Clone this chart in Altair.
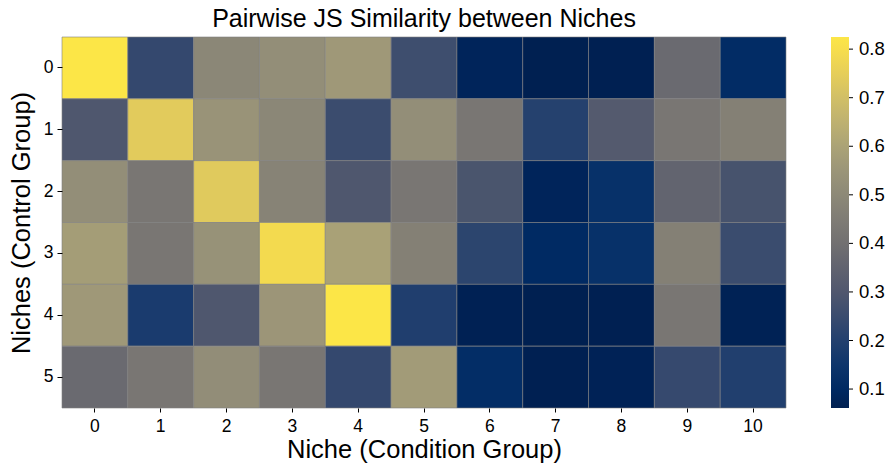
import altair as alt
import pandas as pd

# Niche labels
condition_niches = list(range(11))   # columns: Niche (Condition Group)
control_niches = list(range(6))      # rows: Niches (Control Group)

# Pairwise Jensen-Shannon similarity, one list per control niche
row0 = [0.825, 0.236, 0.492, 0.521, 0.561, 0.259, 0.079, 0.061, 0.063, 0.377, 0.112]
row1 = [0.299, 0.740, 0.543, 0.492, 0.253, 0.521, 0.425, 0.204, 0.313, 0.425, 0.467]
row2 = [0.521, 0.425, 0.735, 0.477, 0.299, 0.425, 0.287, 0.078, 0.132, 0.352, 0.280]
row3 = [0.579, 0.425, 0.537, 0.788, 0.594, 0.467, 0.219, 0.102, 0.132, 0.467, 0.249]
row4 = [0.561, 0.178, 0.299, 0.551, 0.825, 0.191, 0.066, 0.061, 0.062, 0.425, 0.068]
row5 = [0.376, 0.425, 0.516, 0.425, 0.236, 0.572, 0.117, 0.063, 0.069, 0.240, 0.194]
matrix = [row0, row1, row2, row3, row4, row5]

# Colour bar range and tick values
color_domain = [0.061, 0.825]
tick_values = [0.1, 0.2, 0.3, 0.4, 0.5, 0.6, 0.7, 0.8]

records = []
for r, vals in zip(control_niches, matrix):
    for c, v in zip(condition_niches, vals):
        records.append({"control": r, "condition": c, "similarity": v})
df = pd.DataFrame(records)
ticks_df = pd.DataFrame({"tick": tick_values})

FONT = "Liberation Sans"
W, H = 724, 371

heat = alt.Chart(df).mark_rect(stroke="gray", strokeWidth=0.6).encode(
    x=alt.X(
        "condition:O",
        title="Niche (Condition Group)",
        scale=alt.Scale(paddingInner=0, paddingOuter=0),
        axis=alt.Axis(
            labelAngle=0, labelFontSize=17.5, titleFontSize=25.5, titleFontWeight="normal",
            domain=False, tickColor="black", tickSize=4, labelPadding=5, titlePadding=3,
            labelColor="black", titleColor="black", labelFont=FONT, titleFont=FONT,
        ),
    ),
    y=alt.Y(
        "control:O",
        title="Niches (Control Group)",
        scale=alt.Scale(paddingInner=0, paddingOuter=0),
        axis=alt.Axis(
            labelFontSize=17.5, titleFontSize=25.5, titleFontWeight="normal",
            domain=False, tickColor="black", tickSize=5, labelPadding=4, titlePadding=9,
            labelColor="black", titleColor="black", labelFont=FONT, titleFont=FONT,
        ),
    ),
    color=alt.Color(
        "similarity:Q",
        scale=alt.Scale(scheme="cividis", domain=color_domain),
        legend=alt.Legend(
            title=None, values=tick_values, format=".1f",
            gradientLength=H, gradientThickness=18,
            labelFontSize=18.5, labelFont=FONT, labelColor="black",
            labelOffset=10, offset=45, padding=0,
        ),
    ),
)

# Small tick marks beside the colour bar labels
cbar_ticks = alt.Chart(ticks_df).mark_rule(color="black", strokeWidth=1).encode(
    y=alt.Y("tick:Q", scale=alt.Scale(domain=color_domain, nice=False, zero=False), axis=None),
    x=alt.value(W + 63),
    x2=alt.value(W + 67),
)

chart = alt.layer(heat, cbar_ticks).resolve_scale(y="independent").properties(
    width=W,
    height=H,
    title=alt.TitleParams(
        "Pairwise JS Similarity between Niches",
        fontSize=25, fontWeight="normal", font=FONT, color="black", offset=5,
    ),
    autosize=alt.AutoSizeParams(type="none"),
    padding={"left": 62, "top": 37, "right": 109, "bottom": 67},
).configure_view(stroke=None)

chart.save("out.html", embed_options={"renderer": "svg", "actions": False})
